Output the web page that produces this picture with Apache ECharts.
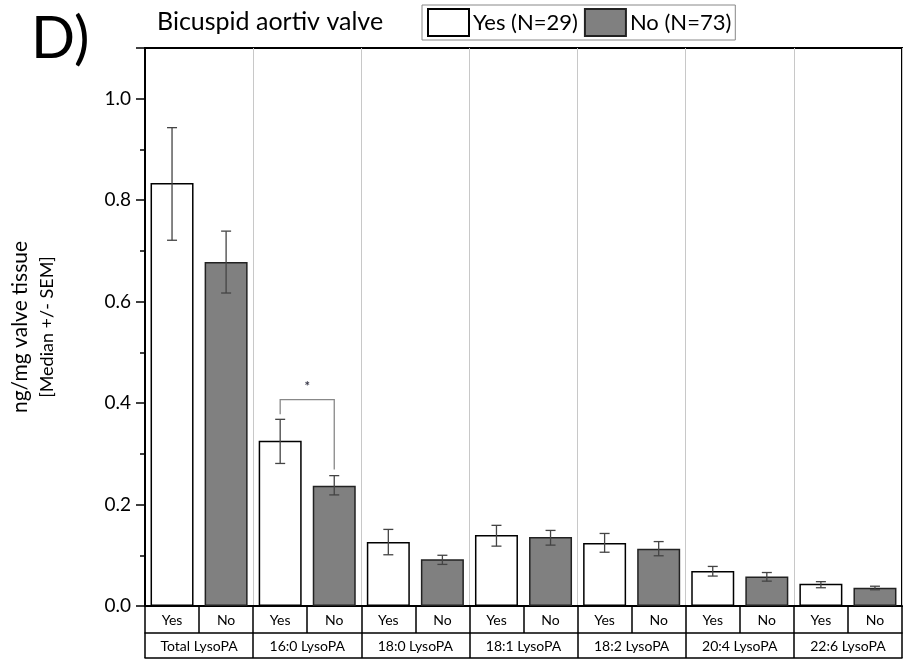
<!DOCTYPE html>
<html>
<head>
<meta charset="utf-8">
<script src="https://cdn.jsdelivr.net/npm/echarts@6/dist/echarts.min.js"></script>
<style>html,body{margin:0;padding:0;background:#fff}#c{width:910px;height:660px}</style>
</head>
<body>
<div id="c"></div>
<script>
const groups = ['Total LysoPA', '16:0 LysoPA', '18:0 LysoPA', '18:1 LysoPA', '18:2 LysoPA', '20:4 LysoPA', '22:6 LysoPA'];
const subLabels = ['Yes', 'No'];
const yesName = 'Yes (N=29)';
const noName = 'No (N=73)';
const yesVals = [0.834, 0.326, 0.126, 0.140, 0.124, 0.069, 0.044];
const yesHi   = [0.943, 0.368, 0.151, 0.159, 0.143, 0.078, 0.048];
const yesLo   = [0.721, 0.281, 0.101, 0.118, 0.106, 0.059, 0.036];
const noVals  = [0.678, 0.237, 0.092, 0.136, 0.113, 0.058, 0.036];
const noHi    = [0.739, 0.257, 0.100, 0.149, 0.127, 0.066, 0.039];
const noLo    = [0.617, 0.219, 0.082, 0.120, 0.099, 0.049, 0.032];
// significance bracket: [fromIndex, toIndex, topValue, leftLegEnd, rightLegEnd, starValue]
const sigBracket = [[2, 3, 0.407, 0.378, 0.269, 0.433]];
const sigLabel = '*';

const subCats = [];
groups.forEach(() => subLabels.forEach(s => subCats.push(s)));
const yesData = subCats.map((_, i) => i % 2 === 0 ? yesVals[i / 2] : '-');
const noData = subCats.map((_, i) => i % 2 === 1 ? noVals[(i - 1) / 2] : '-');
const errData = [];
groups.forEach((g, k) => {
  errData.push([2 * k, yesHi[k], yesLo[k]]);
  errData.push([2 * k + 1, noHi[k], noLo[k]]);
});

const FONT = 'Lato';
const chart = echarts.init(document.getElementById('c'), null, {renderer: 'canvas'});
chart.setOption({
  animation: false,
  backgroundColor: '#fff',
  textStyle: {fontFamily: FONT, color: '#000'},
  title: {
    text: 'Bicuspid aortiv valve', left: 152, top: 4,
    textStyle: {fontFamily: FONT, fontSize: 25, fontWeight: 'normal', color: '#000'}
  },
  graphic: [{
    type: 'text', left: 31, top: 10,
    style: {text: 'D)', font: '58px Lato', fill: '#000'}
  }],
  legend: {
    data: [yesName, noName],
    left: 422, top: 5,
    padding: [3, 4, 3, 5],
    borderColor: '#888', borderWidth: 1,
    itemWidth: 41, itemHeight: 27, itemGap: 6,
    icon: 'rect',
    textStyle: {fontFamily: FONT, fontSize: 22, color: '#000', padding: [0, 0, 0, -1]}
  },
  grid: {
    left: 145, right: 8, top: 48, bottom: 54,
    show: true, borderColor: '#000', borderWidth: 2, backgroundColor: 'transparent'
  },
  xAxis: [{
    type: 'category', data: subCats, position: 'bottom',
    axisLine: {lineStyle: {color: '#000', width: 2}},
    axisTick: {show: true, interval: 0, length: 27, lineStyle: {color: '#000', width: 1.5}},
    axisLabel: {interval: 0, margin: 7, fontSize: 14, color: '#000', fontFamily: FONT},
    splitLine: {show: false}
  }, {
    type: 'category', data: groups, position: 'bottom', offset: 27,
    axisLine: {lineStyle: {color: '#000', width: 1.5}},
    axisTick: {show: true, interval: 0, length: 25, lineStyle: {color: '#000', width: 1.5}},
    axisLabel: {interval: 0, margin: 6, fontSize: 14, color: '#000', fontFamily: FONT},
    splitLine: {show: true, interval: 0, lineStyle: {color: '#c8c8c8', width: 1}}
  }, {
    type: 'category', data: groups, position: 'bottom', offset: 52,
    axisLine: {lineStyle: {color: '#000', width: 1.5}},
    axisTick: {show: false}, axisLabel: {show: false}, splitLine: {show: false}
  }],
  yAxis: {
    type: 'value', min: 0, max: 1.1, interval: 0.2,
    name: '{a|ng/mg valve tissue}\n{b|[Median +/- SEM]}',
    nameLocation: 'middle', nameGap: 86,
    nameTextStyle: {
      fontSize: 20,
      rich: {
        a: {fontSize: 21, fontFamily: FONT, color: '#000', lineHeight: 30},
        b: {fontSize: 18, fontFamily: FONT, color: '#000', lineHeight: 24}
      }
    },
    axisLine: {show: true, lineStyle: {color: '#000', width: 2}},
    axisTick: {show: true, length: 9, lineStyle: {color: '#000', width: 1.5}},
    minorTick: {show: true, splitNumber: 2, length: 5, lineStyle: {color: '#000', width: 1.5}},
    axisLabel: {fontSize: 19, margin: 14, color: '#000', fontFamily: FONT, showMaxLabel: false,
      formatter: v => v.toFixed(1)},
    splitLine: {show: false}
  },
  series: [{
    name: yesName, type: 'bar', data: yesData, barWidth: 43, barGap: '-100%',
    itemStyle: {color: '#ffffff', borderColor: '#000', borderWidth: 1.5}
  }, {
    name: noName, type: 'bar', data: noData, barWidth: 43, barGap: '-100%',
    itemStyle: {color: '#808080', borderColor: '#222', borderWidth: 1.5}
  }, {
    type: 'custom', name: 'err', data: errData, z: 5,
    encode: {x: 0, y: [1, 2]},
    renderItem: (params, api) => {
      const hi = api.coord([api.value(0), api.value(1)]);
      const lo = api.coord([api.value(0), api.value(2)]);
      const w = 5;
      const st = {stroke: '#444', lineWidth: 1.3};
      return {type: 'group', children: [
        {type: 'line', shape: {x1: hi[0], y1: hi[1], x2: lo[0], y2: lo[1]}, style: st},
        {type: 'line', shape: {x1: hi[0] - w, y1: hi[1], x2: hi[0] + w, y2: hi[1]}, style: st},
        {type: 'line', shape: {x1: lo[0] - w, y1: lo[1], x2: lo[0] + w, y2: lo[1]}, style: st}
      ]};
    }
  }, {
    type: 'custom', name: 'sig', data: sigBracket, z: 6,
    encode: {x: [0, 1], y: [2, 3, 4, 5]},
    renderItem: (params, api) => {
      const a = api.coord([api.value(0), api.value(2)]);
      const b = api.coord([api.value(1), api.value(2)]);
      const la = api.coord([api.value(0), api.value(3)]);
      const rb = api.coord([api.value(1), api.value(4)]);
      const s = api.coord([api.value(0), api.value(5)]);
      return {type: 'group', children: [
        {type: 'polyline', shape: {points: [[la[0], la[1]], [a[0], a[1]], [b[0], b[1]], [rb[0], rb[1]]]},
          style: {stroke: '#888', lineWidth: 1.3, fill: null}},
        {type: 'text', x: (a[0] + b[0]) / 2, y: s[1],
          style: {text: sigLabel, font: 'bold 13px Lato', fill: '#334', align: 'center', verticalAlign: 'middle'}}
      ]};
    }
  }]
});
</script>
</body>
</html>
